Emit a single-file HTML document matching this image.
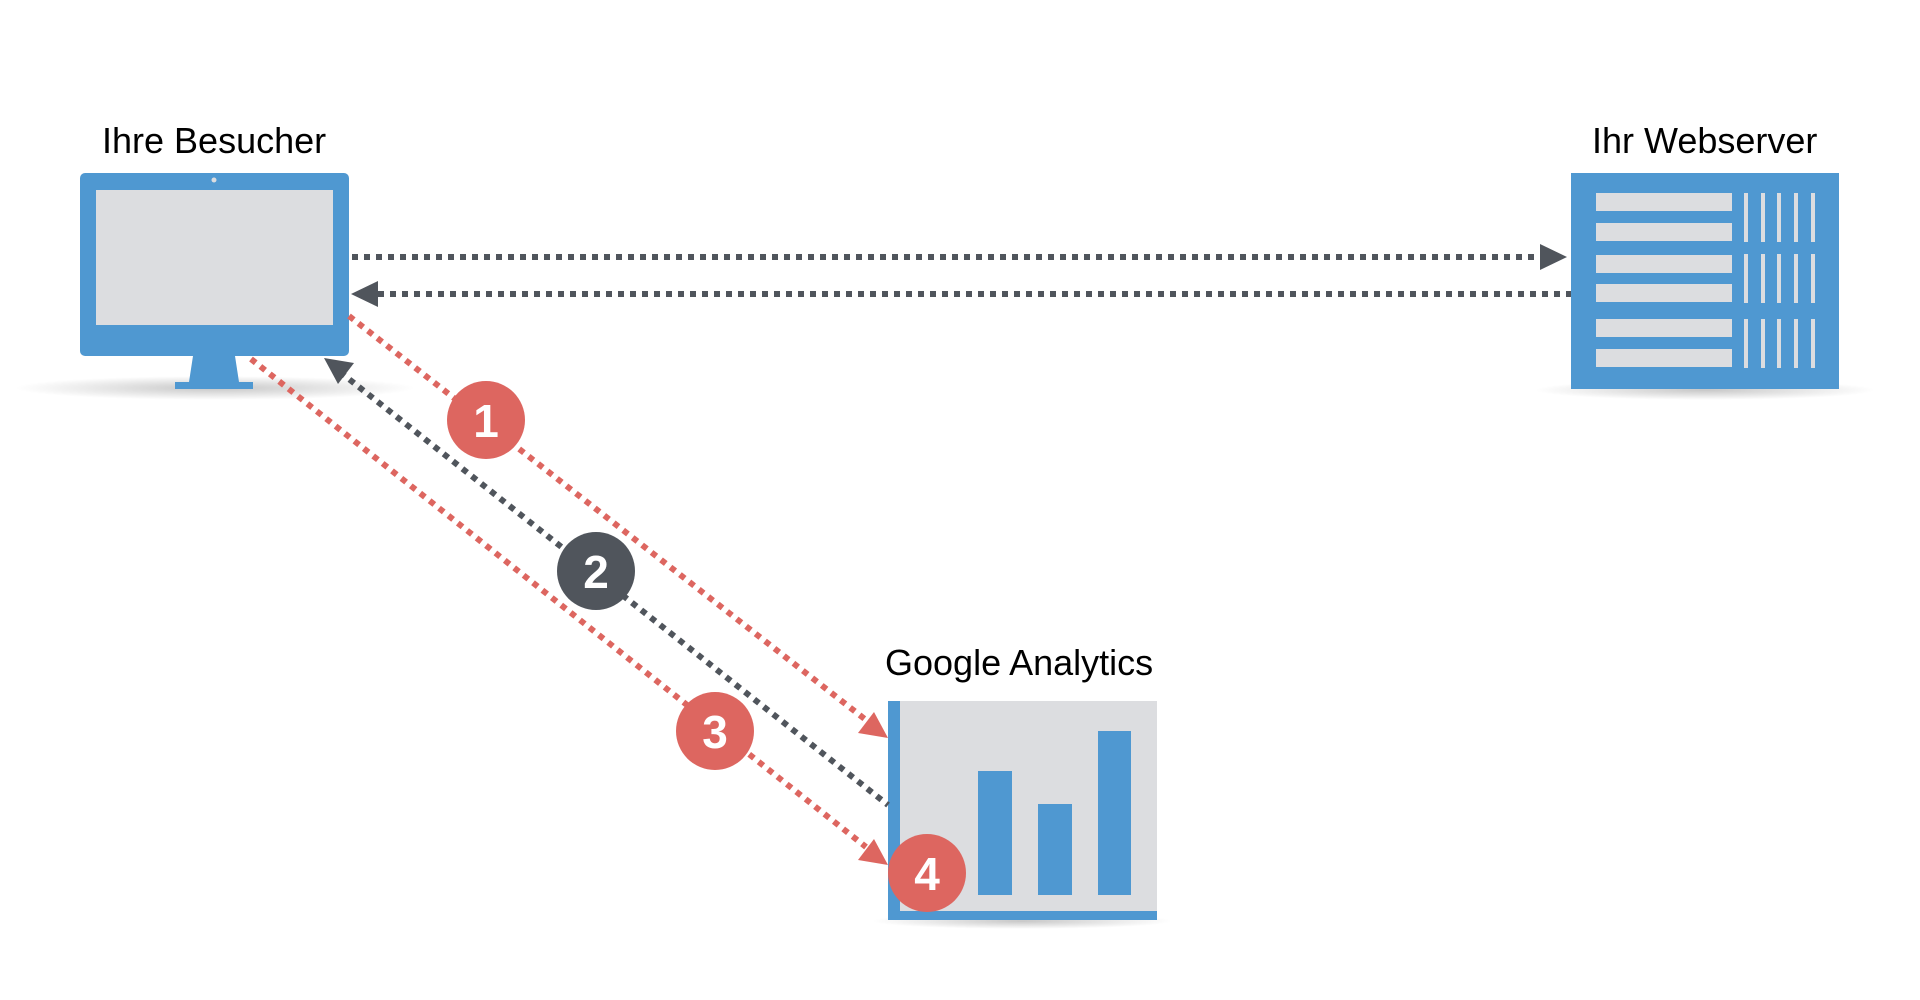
<!DOCTYPE html>
<html><head><meta charset="utf-8"><style>
html,body{margin:0;padding:0;background:#fff;width:1920px;height:1000px;overflow:hidden}
svg text{font-family:"Liberation Sans",Arial,sans-serif}
</style></head><body>
<svg width="1920" height="1000" viewBox="0 0 1920 1000" xmlns="http://www.w3.org/2000/svg">
<defs>
<radialGradient id="sh" cx="50%" cy="50%" r="50%">
<stop offset="0" stop-color="#000" stop-opacity="0.22"/>
<stop offset="1" stop-color="#000" stop-opacity="0"/>
</radialGradient>
</defs>
<!-- shadows -->
<ellipse cx="215" cy="388" rx="200" ry="12" fill="url(#sh)"/>
<ellipse cx="1705" cy="390" rx="170" ry="10" fill="url(#sh)"/>
<ellipse cx="1022" cy="921" rx="150" ry="8" fill="url(#sh)"/>

<!-- labels -->
<text x="102" y="153" font-size="36" fill="#000">Ihre Besucher</text>
<text x="1592" y="153" font-size="36" fill="#000">Ihr Webserver</text>
<text x="885" y="675" font-size="36" fill="#000">Google Analytics</text>

<!-- monitor -->
<rect x="80" y="173" width="269" height="183" rx="5" fill="#4f98d1"/>
<rect x="96" y="190" width="237" height="135" fill="#dcdde0"/>
<circle cx="214" cy="180" r="2.5" fill="#dcdde0"/>
<polygon points="193,356 235,356 239,382 189,382" fill="#4f98d1"/>
<rect x="175" y="382" width="78" height="7" fill="#4f98d1"/>

<!-- server -->
<rect x="1571" y="173" width="268" height="216" fill="#4f98d1"/>
<g fill="#dcdde0">
<rect x="1596" y="193" width="136" height="18"/>
<rect x="1596" y="223" width="136" height="18"/>
<rect x="1596" y="255" width="136" height="18"/>
<rect x="1596" y="284" width="136" height="18"/>
<rect x="1596" y="319" width="136" height="18"/>
<rect x="1596" y="349" width="136" height="18"/>
<rect x="1744" y="193" width="4" height="49"/><rect x="1761" y="193" width="4" height="49"/><rect x="1777" y="193" width="4" height="49"/><rect x="1794" y="193" width="4" height="49"/><rect x="1811" y="193" width="4" height="49"/>
<rect x="1744" y="254" width="4" height="49"/><rect x="1761" y="254" width="4" height="49"/><rect x="1777" y="254" width="4" height="49"/><rect x="1794" y="254" width="4" height="49"/><rect x="1811" y="254" width="4" height="49"/>
<rect x="1744" y="319" width="4" height="49"/><rect x="1761" y="319" width="4" height="49"/><rect x="1777" y="319" width="4" height="49"/><rect x="1794" y="319" width="4" height="49"/><rect x="1811" y="319" width="4" height="49"/>
</g>

<!-- GA -->
<rect x="888" y="701" width="269" height="219" fill="#dcdde0"/>
<rect x="888" y="701" width="12" height="219" fill="#4f98d1"/>
<rect x="888" y="911" width="269" height="9" fill="#4f98d1"/>
<rect x="978" y="771" width="34" height="124" fill="#4f98d1"/>
<rect x="1038" y="804" width="34" height="91" fill="#4f98d1"/>
<rect x="1098" y="731" width="33" height="164" fill="#4f98d1"/>

<!-- horizontal arrows -->
<g stroke="#50555c" stroke-width="6" stroke-dasharray="6 6" fill="none">
<line x1="352" y1="257" x2="1542" y2="257"/>
<line x1="378" y1="294" x2="1571" y2="294"/>
</g>
<polygon points="1567,257 1540,244 1540,270" fill="#50555c"/>
<polygon points="351,294 378,281 378,307" fill="#50555c"/>

<!-- diagonal lines -->
<g stroke-width="6" stroke-dasharray="6 6" fill="none">
<line x1="349" y1="316" x2="866" y2="720" stroke="#dd6660"/>
<line x1="340" y1="372" x2="888" y2="805" stroke="#50555c"/>
<line x1="251" y1="359" x2="866" y2="847" stroke="#dd6660"/>
</g>
<!-- arrowheads -->
<polygon points="888,738 858,733 874,712" fill="#dd6660"/>
<polygon points="888,865 858,860 874,839" fill="#dd6660"/>
<polygon points="324,358 354,363 338,384" fill="#50555c"/>

<!-- circles -->
<circle cx="486" cy="420" r="39" fill="#dd6660"/>
<circle cx="596" cy="571" r="39" fill="#50555c"/>
<circle cx="715" cy="731" r="39" fill="#dd6660"/>
<circle cx="927" cy="873" r="39" fill="#dd6660"/>
<g fill="#fff" font-size="46" font-weight="bold" text-anchor="middle">
<text x="486" y="437">1</text>
<text x="596" y="588">2</text>
<text x="715" y="748">3</text>
<text x="927" y="890">4</text>
</g>
</svg>
</body></html>
